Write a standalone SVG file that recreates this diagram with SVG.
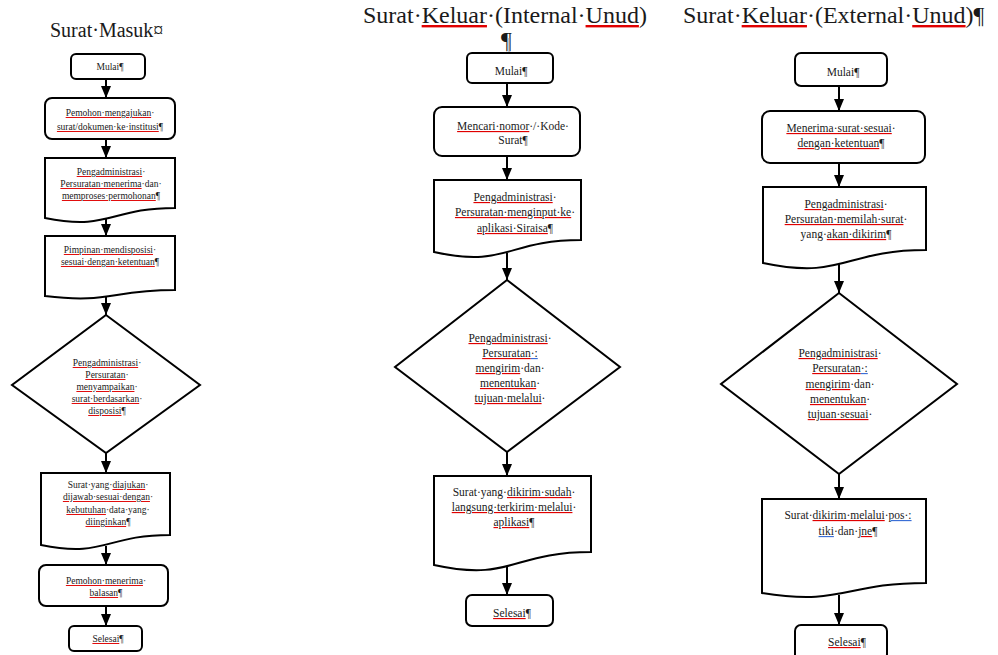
<svg xmlns="http://www.w3.org/2000/svg" width="998" height="655" viewBox="0 0 998 655">
<style>
.b{fill:#fff;stroke:#000;stroke-width:2}
.c{stroke:#000;stroke-width:2;fill:none}
.s{font-family:"Liberation Serif","Times New Roman",serif;fill:#1a1a1a;text-anchor:middle}
.t1{font-size:9.5px}
.t2{font-size:11.5px}
.h1{font-family:"Liberation Serif","Times New Roman",serif;fill:#1a1a1a;font-size:20px}
.h2{font-family:"Liberation Serif","Times New Roman",serif;fill:#1a1a1a;font-size:24px}
.u{fill:#e00000;text-decoration:underline}
.v{fill:#3b6fd6;text-decoration:underline}
.u>tspan,.v>tspan{fill:#1a1a1a}
</style>
<defs>
<marker id="ah" markerUnits="userSpaceOnUse" viewBox="0 0 12 10" refX="12" refY="5" markerWidth="12" markerHeight="10" orient="auto">
<path d="M0,0 L12,5 L0,10 z" fill="#000"/>
</marker>
</defs>
<rect width="998" height="655" fill="#fff"/>

<g id="titles">
<text class="h1" x="50" y="37">Surat·Masuk¤</text>
<text class="h2" x="363" y="23">Surat·<tspan class="u"><tspan>Keluar</tspan></tspan>·(Internal·<tspan class="u"><tspan>Unud</tspan></tspan>)</text>
<text class="h2" x="683" y="23">Surat·<tspan class="u"><tspan>Keluar</tspan></tspan>·(External·<tspan class="u"><tspan>Unud</tspan></tspan>)¶</text>
<text class="h2" x="501" y="48">¶</text>
<line x1="509" y1="38" x2="509" y2="53" stroke="#999" stroke-width="1"/>
</g>

<g id="connectors">
<line class="c" x1="106" y1="79" x2="106" y2="98" marker-end="url(#ah)"/>
<line class="c" x1="106" y1="139" x2="106" y2="158" marker-end="url(#ah)"/>
<line class="c" x1="106" y1="219" x2="106" y2="236" marker-end="url(#ah)"/>
<line class="c" x1="106" y1="296" x2="106" y2="315" marker-end="url(#ah)"/>
<line class="c" x1="106" y1="453" x2="106" y2="473" marker-end="url(#ah)"/>
<line class="c" x1="106" y1="546" x2="106" y2="565" marker-end="url(#ah)"/>
<line class="c" x1="106" y1="606" x2="106" y2="626" marker-end="url(#ah)"/>

<line class="c" x1="507" y1="83" x2="507" y2="107" marker-end="url(#ah)"/>
<line class="c" x1="507" y1="156" x2="507" y2="180" marker-end="url(#ah)"/>
<line class="c" x1="507" y1="253" x2="507" y2="280" marker-end="url(#ah)"/>
<line class="c" x1="507" y1="452" x2="507" y2="476" marker-end="url(#ah)"/>
<line class="c" x1="507" y1="567" x2="507" y2="595" marker-end="url(#ah)"/>

<line class="c" x1="839" y1="86" x2="839" y2="111" marker-end="url(#ah)"/>
<line class="c" x1="839" y1="163" x2="839" y2="187" marker-end="url(#ah)"/>
<line class="c" x1="839" y1="264" x2="839" y2="293" marker-end="url(#ah)"/>
<line class="c" x1="839" y1="474" x2="839" y2="499" marker-end="url(#ah)"/>
<line class="c" x1="839" y1="595" x2="839" y2="625" marker-end="url(#ah)"/>
</g>

<!-- Column 1: Surat Masuk -->
<g id="m-mulai">
<rect class="b" x="71" y="54" width="74" height="25" rx="5"/>
<text class="s t1" x="110" y="70">Mulai¶</text>
</g>
<g id="m-pemohon">
<rect class="b" x="45" y="98" width="130" height="41" rx="7"/>
<text class="s t1" x="110" y="116"><tspan class="u"><tspan>Pemohon·mengajukan</tspan></tspan>·</text>
<text class="s t1" x="110" y="130"><tspan class="u"><tspan>surat/dokumen·ke·institusi</tspan></tspan>¶</text>
</g>
<g id="m-proses">
<path class="b" d="M45,158 H175 V208 C110,208 110,231 45,218 Z"/>
<text class="s t1" x="111" y="175"><tspan class="u"><tspan>Pengadministrasi</tspan></tspan>·</text>
<text class="s t1" x="111" y="187"><tspan class="u"><tspan>Persuratan·menerima</tspan></tspan>·dan·</text>
<text class="s t1" x="111" y="199"><tspan class="u"><tspan>memproses·permohonan</tspan></tspan>¶</text>
</g>
<g id="m-pimpinan">
<path class="b" d="M45,236 H175 V290 C110,290 110,304 45,296 Z"/>
<text class="s t1" x="110" y="253"><tspan class="u"><tspan>Pimpinan·mendisposisi</tspan></tspan>·</text>
<text class="s t1" x="110" y="265"><tspan class="u"><tspan>sesuai·dengan·ketentuan</tspan></tspan>¶</text>
</g>
<g id="m-decision">
<path class="b" d="M106,315 L200,385 L106,453 L12,385 Z"/>
<text class="s t1" x="107" y="366"><tspan class="u"><tspan>Pengadministrasi</tspan></tspan>·</text>
<text class="s t1" x="107" y="378"><tspan class="u"><tspan>Persuratan</tspan></tspan>·</text>
<text class="s t1" x="107" y="390"><tspan class="u"><tspan>menyampaikan</tspan></tspan>·</text>
<text class="s t1" x="107" y="402"><tspan class="u"><tspan>surat·berdasarkan</tspan></tspan>·</text>
<text class="s t1" x="107" y="414"><tspan class="u"><tspan>disposisi</tspan></tspan>¶</text>
</g>
<g id="m-jawab">
<path class="b" d="M41,473 H170 V535 C105,535 105,558 41,545 Z"/>
<text class="s t1" x="108" y="488">Surat·yang·<tspan class="u"><tspan>diajukan</tspan></tspan>·</text>
<text class="s t1" x="108" y="500"><tspan class="u"><tspan>dijawab·sesuai·dengan</tspan></tspan>·</text>
<text class="s t1" x="108" y="513"><tspan class="u"><tspan>kebutuhan</tspan></tspan>·data·yang·</text>
<text class="s t1" x="108" y="525"><tspan class="u"><tspan>diinginkan</tspan></tspan>¶</text>
</g>
<g id="m-balasan">
<rect class="b" x="39" y="565" width="129" height="41" rx="7"/>
<text class="s t1" x="106" y="584"><tspan class="u"><tspan>Pemohon·menerima</tspan></tspan>·</text>
<text class="s t1" x="106" y="596"><tspan class="u"><tspan>balasan</tspan></tspan>¶</text>
</g>
<g id="m-selesai">
<rect class="b" x="69" y="626" width="73" height="25" rx="5"/>
<text class="s t1" x="108" y="642"><tspan class="u"><tspan>Selesai</tspan></tspan>¶</text>
</g>

<!-- Column 2: Surat Keluar Internal -->
<g id="i-mulai">
<rect class="b" x="467" y="53" width="86" height="30" rx="5"/>
<text class="s t2" x="511" y="75">Mulai¶</text>
</g>
<g id="i-cari">
<rect class="b" x="434" y="107" width="146" height="49" rx="8"/>
<text class="s t2" x="513" y="130"><tspan class="u"><tspan>Mencari·nomor</tspan></tspan>·/·Kode·</text>
<text class="s t2" x="513" y="144">Surat¶</text>
</g>
<g id="i-input">
<path class="b" d="M434,180 H581 V240 C507,240 507,268 434,252 Z"/>
<text class="s t2" x="515" y="201"><tspan class="u"><tspan>Pengadministrasi</tspan></tspan>·</text>
<text class="s t2" x="515" y="216"><tspan class="u"><tspan>Persuratan·menginput·ke</tspan></tspan>·</text>
<text class="s t2" x="515" y="232"><tspan class="u"><tspan>aplikasi·Siraisa</tspan></tspan>¶</text>
</g>
<g id="i-decision">
<path class="b" d="M507,280 L620,367 L507,452 L395,367 Z"/>
<text class="s t2" x="510" y="342"><tspan class="u"><tspan>Pengadministrasi</tspan></tspan>·</text>
<text class="s t2" x="510" y="357"><tspan class="u"><tspan>Persuratan</tspan></tspan><tspan class="v"><tspan>·:</tspan></tspan></text>
<text class="s t2" x="510" y="372"><tspan class="u"><tspan>mengirim</tspan></tspan>·dan·</text>
<text class="s t2" x="510" y="387"><tspan class="u"><tspan>menentukan</tspan></tspan>·</text>
<text class="s t2" x="510" y="402"><tspan class="u"><tspan>tujuan·melalui</tspan></tspan>·</text>
</g>
<g id="i-kirim">
<path class="b" d="M434,476 H591 V552 C512,552 512,582 434,565 Z"/>
<text class="s t2" x="514" y="496">Surat·yang·<tspan class="u"><tspan>dikirim·sudah</tspan></tspan>·</text>
<text class="s t2" x="514" y="511"><tspan class="u"><tspan>langsung·terkirim·melalui</tspan></tspan>·</text>
<text class="s t2" x="514" y="526"><tspan class="u"><tspan>aplikasi</tspan></tspan>¶</text>
</g>
<g id="i-selesai">
<rect class="b" x="466" y="595" width="87" height="31" rx="6"/>
<text class="s t2" x="512" y="617"><tspan class="u"><tspan>Selesai</tspan></tspan>¶</text>
</g>

<!-- Column 3: Surat Keluar External -->
<g id="e-mulai">
<rect class="b" x="795" y="53" width="92" height="33" rx="6"/>
<text class="s t2" x="843" y="76">Mulai¶</text>
</g>
<g id="e-terima">
<rect class="b" x="762" y="111" width="163" height="52" rx="8"/>
<text class="s t2" x="841" y="132"><tspan class="u"><tspan>Menerima·surat·sesuai</tspan></tspan>·</text>
<text class="s t2" x="841" y="147"><tspan class="u"><tspan>dengan·ketentuan</tspan></tspan>¶</text>
</g>
<g id="e-pilah">
<path class="b" d="M763,187 H926 V250 C844,250 844,280 763,263 Z"/>
<text class="s t2" x="846" y="208"><tspan class="u"><tspan>Pengadministrasi</tspan></tspan>·</text>
<text class="s t2" x="846" y="223"><tspan class="u"><tspan>Persuratan·memilah·surat</tspan></tspan>·</text>
<text class="s t2" x="846" y="238">yang·<tspan class="u"><tspan>akan·dikirim</tspan></tspan>¶</text>
</g>
<g id="e-decision">
<path class="b" d="M839,293 L957,384 L839,474 L721,384 Z"/>
<text class="s t2" x="840" y="357"><tspan class="u"><tspan>Pengadministrasi</tspan></tspan>·</text>
<text class="s t2" x="840" y="372"><tspan class="u"><tspan>Persuratan</tspan></tspan><tspan class="v"><tspan>·:</tspan></tspan></text>
<text class="s t2" x="840" y="388"><tspan class="u"><tspan>mengirim</tspan></tspan>·dan·</text>
<text class="s t2" x="840" y="403"><tspan class="u"><tspan>menentukan</tspan></tspan>·</text>
<text class="s t2" x="840" y="418"><tspan class="u"><tspan>tujuan·sesuai</tspan></tspan>·</text>
</g>
<g id="e-kirim">
<path class="b" d="M762,499 H926 V583 C844,583 844,606 762,593 Z"/>
<text class="s t2" x="848" y="519">Surat·<tspan class="u"><tspan>dikirim·melalui</tspan></tspan>·<tspan class="v"><tspan>pos·:</tspan></tspan></text>
<text class="s t2" x="848" y="535"><tspan class="v"><tspan>tiki</tspan></tspan>·dan·<tspan class="u"><tspan>jne</tspan></tspan>¶</text>
</g>
<g id="e-selesai">
<rect class="b" x="795" y="625" width="92" height="35" rx="6"/>
<text class="s t2" x="847" y="646"><tspan class="u"><tspan>Selesai</tspan></tspan>¶</text>
</g>
</svg>
